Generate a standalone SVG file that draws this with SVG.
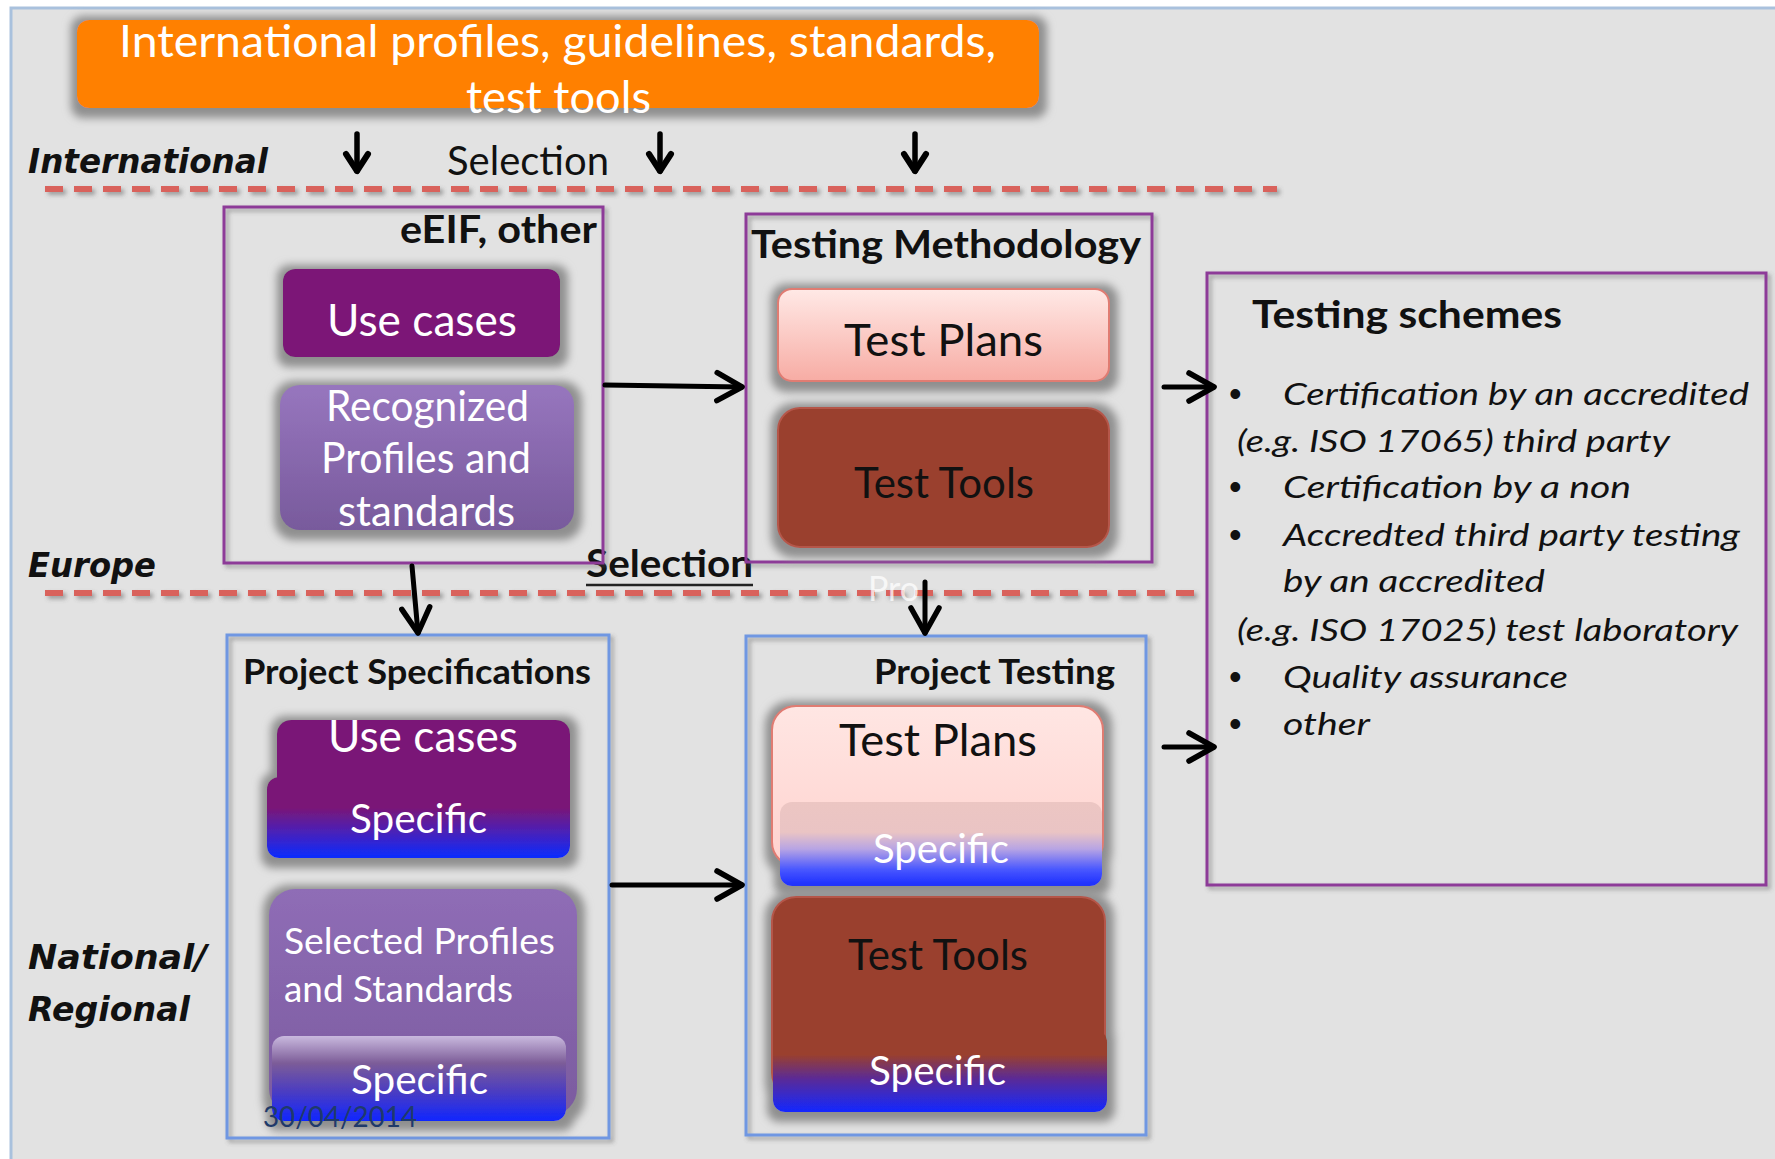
<svg xmlns="http://www.w3.org/2000/svg" width="1775" height="1159" viewBox="0 0 1775 1159">
<style>
  .reg { font-family: Lato, "Open Sans", "Liberation Sans", sans-serif; }
  .bold { font-family: Lato, "Open Sans", "Liberation Sans", sans-serif; font-weight: 700; }
  .ital { font-family: Lato, "Open Sans", "Liberation Sans", sans-serif; font-style: italic; }
  .level { font-family: "DejaVu Sans", Verdana, sans-serif; font-weight: 700; font-style: oblique; font-size: 33px; fill: #111; }
  .white { fill: #ffffff; }
  .black { fill: #111111; }
  .zone-purple { fill: none; stroke: #8d3b98; stroke-width: 3; }
  .zone-blue { fill: none; stroke: #6f97e2; stroke-width: 3; }
  .divider { fill: none; stroke: #d9625c; stroke-width: 6; stroke-dasharray: 18 11; }
  .conn { fill: none; stroke: #000; stroke-width: 5; }
  .conn-s { fill: none; stroke: #000; stroke-width: 5.5; }
</style>
<defs>
  <filter id="glow" filterUnits="userSpaceOnUse" x="0" y="0" width="1775" height="1159">
    <feMorphology in="SourceAlpha" operator="dilate" radius="7" result="d"/>
    <feGaussianBlur in="d" stdDeviation="4"/>
    <feOffset dx="1" dy="3" result="b"/>
    <feFlood flood-color="#8f8f8f" flood-opacity="1"/>
    <feComposite in2="b" operator="in"/>
    <feMerge><feMergeNode/><feMergeNode in="SourceGraphic"/></feMerge>
  </filter>
  <filter id="soft" filterUnits="userSpaceOnUse" x="0" y="0" width="1775" height="1159">
    <feGaussianBlur in="SourceAlpha" stdDeviation="2"/>
    <feOffset dx="3" dy="3" result="b"/>
    <feFlood flood-color="#555" flood-opacity="0.5"/>
    <feComposite in2="b" operator="in"/>
    <feMerge><feMergeNode/><feMergeNode in="SourceGraphic"/></feMerge>
  </filter>
  <linearGradient id="gRecog" x1="0" y1="0" x2="0" y2="1">
    <stop offset="0" stop-color="#9776be"/>
    <stop offset="1" stop-color="#785a9c"/>
  </linearGradient>
  <linearGradient id="gPlans" x1="0" y1="0" x2="0" y2="1">
    <stop offset="0" stop-color="#ffe9e6"/>
    <stop offset="1" stop-color="#f7aca4"/>
  </linearGradient>
  <linearGradient id="gPlansB" x1="0" y1="0" x2="0" y2="1">
    <stop offset="0" stop-color="#ffe6e3"/>
    <stop offset="1" stop-color="#ffd2ce"/>
  </linearGradient>
  <linearGradient id="gUcSpec" x1="0" y1="0" x2="0" y2="1">
    <stop offset="0" stop-color="#7a1777"/>
    <stop offset="0.38" stop-color="#7a1777"/>
    <stop offset="0.66" stop-color="#4d20b4"/>
    <stop offset="1" stop-color="#0a2cff"/>
  </linearGradient>
  <linearGradient id="gSelBody" x1="0" y1="0" x2="0" y2="1">
    <stop offset="0" stop-color="#8f6db6"/>
    <stop offset="1" stop-color="#7b5b9f"/>
  </linearGradient>
  <linearGradient id="gSelSpec" x1="0" y1="0" x2="0" y2="1">
    <stop offset="0" stop-color="#c9b9de"/>
    <stop offset="0.32" stop-color="#7c5c98"/>
    <stop offset="0.66" stop-color="#4a3cc2"/>
    <stop offset="1" stop-color="#1026ff"/>
  </linearGradient>
  <linearGradient id="gPlanSpec" x1="0" y1="0" x2="0" y2="1">
    <stop offset="0" stop-color="#ecc6c3"/>
    <stop offset="0.36" stop-color="#eac4c4"/>
    <stop offset="0.56" stop-color="#b7a4e4"/>
    <stop offset="0.8" stop-color="#4a58ff"/>
    <stop offset="1" stop-color="#1a2cff"/>
  </linearGradient>
  <linearGradient id="gToolSpec" x1="0" y1="0" x2="0" y2="1">
    <stop offset="0" stop-color="#9a402d"/>
    <stop offset="0.3" stop-color="#9a402d"/>
    <stop offset="0.6" stop-color="#5a2a98"/>
    <stop offset="1" stop-color="#1228ff"/>
  </linearGradient>
  <marker id="head" markerUnits="userSpaceOnUse" viewBox="-32 -20 38 40" refX="0" refY="0" markerWidth="38" markerHeight="40" orient="auto" overflow="visible">
    <path d="M-25,-14 L0,0 L-25,14" fill="none" stroke="#000" stroke-width="5.5" stroke-linecap="round" stroke-linejoin="round"/>
  </marker>
  <marker id="headS" markerUnits="userSpaceOnUse" viewBox="-24 -16 28 32" refX="0" refY="0" markerWidth="28" markerHeight="32" orient="auto" overflow="visible">
    <path d="M-17,-11 L0,0 L-17,11" fill="none" stroke="#000" stroke-width="6" stroke-linecap="round" stroke-linejoin="round"/>
  </marker>
</defs>

<!-- page and slide frame -->
<rect x="0" y="0" width="1775" height="1159" fill="#ffffff"/>
<rect x="11" y="8" width="1790" height="1180" fill="#e2e2e2" stroke="#a9c1dd" stroke-width="3"/>

<!-- level dividers -->
<g id="dividers" filter="url(#soft)">
  <line class="divider" x1="45" y1="189" x2="1277" y2="189"/>
  <line class="divider" x1="45" y1="593" x2="1200" y2="593"/>
</g>

<!-- level labels -->
<g id="levels">
  <text class="level" x="28" y="173" textLength="240" lengthAdjust="spacingAndGlyphs">International</text>
  <text class="level" x="28" y="577" textLength="128" lengthAdjust="spacingAndGlyphs">Europe</text>
  <text class="level" x="28" y="969" textLength="179" lengthAdjust="spacingAndGlyphs">National/</text>
  <text class="level" x="28" y="1021" textLength="162" lengthAdjust="spacingAndGlyphs">Regional</text>
</g>

<!-- international sources -->
<g id="intl-sources">
  <rect x="77" y="20" width="962" height="88" rx="12" fill="#ff8003" filter="url(#glow)"/>
  <text class="reg white" x="119" y="57" font-size="45" textLength="877" lengthAdjust="spacingAndGlyphs">International profiles, guidelines, standards,</text>
  <text class="reg white" x="466" y="113" font-size="45" textLength="185" lengthAdjust="spacingAndGlyphs">test tools</text>
</g>

<g id="selection-labels">
  <text class="reg black" x="447" y="175" font-size="41" textLength="162" lengthAdjust="spacingAndGlyphs">Selection</text>
  <text class="bold black" x="586" y="577" font-size="38" textLength="167" lengthAdjust="spacingAndGlyphs">Selection</text>
  <line x1="586" y1="585" x2="753" y2="585" stroke="#222" stroke-width="2.5"/>
  <text class="reg" x="868" y="601" font-size="34" fill="#ffffff" fill-opacity="0.75">Pro</text>
</g>

<!-- Europe: eEIF and others -->
<g id="eeif">
  <rect class="zone-purple" x="224" y="207" width="379" height="356" filter="url(#soft)"/>
  <text class="bold black" x="400" y="243" font-size="39" textLength="197" lengthAdjust="spacingAndGlyphs">eEIF, other</text>
  <g id="eeif-usecases">
    <rect x="283" y="269" width="277" height="88" rx="12" fill="#7b1677" filter="url(#glow)"/>
    <text class="reg white" x="327" y="336" font-size="44" textLength="190" lengthAdjust="spacingAndGlyphs">Use cases</text>
  </g>
  <g id="eeif-profiles">
    <rect x="280" y="385" width="294" height="145" rx="20" fill="url(#gRecog)" filter="url(#glow)"/>
    <text class="reg white" x="326" y="421" font-size="42" textLength="203" lengthAdjust="spacingAndGlyphs">Recognized</text>
    <text class="reg white" x="321" y="473" font-size="42" textLength="210" lengthAdjust="spacingAndGlyphs">Profiles and</text>
    <text class="reg white" x="338" y="526" font-size="42" textLength="177" lengthAdjust="spacingAndGlyphs">standards</text>
  </g>
</g>

<!-- Europe: testing methodology -->
<g id="methodology">
  <rect class="zone-purple" x="746" y="214" width="406" height="348" filter="url(#soft)"/>
  <text class="bold black" x="751" y="258" font-size="39" textLength="390" lengthAdjust="spacingAndGlyphs">Testing Methodology</text>
  <g id="method-plans">
    <rect x="778" y="289" width="331" height="92" rx="14" fill="url(#gPlans)" stroke="#e07b72" stroke-width="2" filter="url(#glow)"/>
    <text class="reg black" x="844" y="356" font-size="45" textLength="199" lengthAdjust="spacingAndGlyphs">Test Plans</text>
  </g>
  <g id="method-tools">
    <rect x="778" y="408" width="331" height="139" rx="22" fill="#9a402d" stroke="#b5574a" stroke-width="2" filter="url(#glow)"/>
    <text class="reg black" x="854" y="498" font-size="42" textLength="180" lengthAdjust="spacingAndGlyphs">Test Tools</text>
  </g>
</g>

<!-- testing schemes -->
<g id="schemes">
  <rect class="zone-purple" x="1207" y="273" width="559" height="612" filter="url(#soft)"/>
  <text class="bold black" x="1252" y="328" font-size="38" textLength="310" lengthAdjust="spacingAndGlyphs">Testing  schemes</text>
  <g font-family="'Liberation Sans', Arial, sans-serif" font-size="36" fill="#111">
    <text x="1229" y="406">•</text>
    <text x="1229" y="499">•</text>
    <text x="1229" y="547">•</text>
    <text x="1229" y="689">•</text>
    <text x="1229" y="736">•</text>
  </g>
  <g class="ital" font-size="31" fill="#111">
    <text x="1283" y="405" textLength="466" lengthAdjust="spacingAndGlyphs">Certification by an accredited</text>
    <text x="1237" y="452" textLength="433" lengthAdjust="spacingAndGlyphs">(e.g. ISO 17065) third party</text>
    <text x="1283" y="498" textLength="348" lengthAdjust="spacingAndGlyphs">Certification by  a non</text>
    <text x="1283" y="546" textLength="457" lengthAdjust="spacingAndGlyphs">Accredted third party testing</text>
    <text x="1283" y="592" textLength="262" lengthAdjust="spacingAndGlyphs">by an accredited</text>
    <text x="1237" y="641" textLength="501" lengthAdjust="spacingAndGlyphs">(e.g. ISO 17025) test laboratory</text>
    <text x="1283" y="688" textLength="285" lengthAdjust="spacingAndGlyphs">Quality assurance</text>
    <text x="1283" y="735" textLength="87" lengthAdjust="spacingAndGlyphs">other</text>
  </g>
</g>

<!-- national / regional: project specifications -->
<g id="project-specs">
  <rect class="zone-blue" x="227" y="635" width="382" height="503" filter="url(#soft)"/>
  <text class="bold black" x="243" y="684" font-size="34" textLength="348" lengthAdjust="spacingAndGlyphs">Project Specifications</text>
  <g id="spec-usecases" filter="url(#glow)">
    <rect x="277" y="720" width="293" height="90" rx="14" fill="#7a1777"/>
    <rect x="267" y="777" width="303" height="81" rx="12" fill="url(#gUcSpec)"/>
  </g>
  <text class="reg white" x="328" y="752" font-size="44" textLength="190" lengthAdjust="spacingAndGlyphs">Use cases</text>
  <text class="reg white" x="350" y="833" font-size="41" textLength="137" lengthAdjust="spacingAndGlyphs">Specific</text>
  <g id="spec-profiles" filter="url(#glow)">
    <rect x="269" y="889" width="308" height="226" rx="26" fill="url(#gSelBody)"/>
    <rect x="272" y="1036" width="294" height="85" rx="12" fill="url(#gSelSpec)"/>
  </g>
  <text class="reg white" x="284" y="954" font-size="37" textLength="271" lengthAdjust="spacingAndGlyphs">Selected Profiles</text>
  <text class="reg white" x="284" y="1002" font-size="37" textLength="229" lengthAdjust="spacingAndGlyphs">and Standards</text>
  <text class="reg white" x="351" y="1094" font-size="41" textLength="137" lengthAdjust="spacingAndGlyphs">Specific</text>
</g>

<!-- national / regional: project testing -->
<g id="project-testing">
  <rect class="zone-blue" x="746" y="636" width="400" height="499" filter="url(#soft)"/>
  <text class="bold black" x="874" y="684" font-size="34" textLength="241" lengthAdjust="spacingAndGlyphs">Project Testing</text>
  <g id="ptest-plans" filter="url(#glow)">
    <rect x="772" y="706" width="331" height="160" rx="24" fill="url(#gPlansB)" stroke="#e07b72" stroke-width="2"/>
    <rect x="780" y="802" width="322" height="84" rx="12" fill="url(#gPlanSpec)"/>
  </g>
  <text class="reg black" x="839" y="756" font-size="45" textLength="198" lengthAdjust="spacingAndGlyphs">Test Plans</text>
  <text class="reg white" x="873" y="863" font-size="41" textLength="136" lengthAdjust="spacingAndGlyphs">Specific</text>
  <g id="ptest-tools" filter="url(#glow)">
    <rect x="772" y="897" width="333" height="200" rx="24" fill="#9a402d" stroke="#b5574a" stroke-width="2"/>
    <rect x="773" y="1030" width="334" height="82" rx="12" fill="url(#gToolSpec)"/>
  </g>
  <text class="reg black" x="848" y="970" font-size="42" textLength="180" lengthAdjust="spacingAndGlyphs">Test Tools</text>
  <text class="reg white" x="869" y="1085" font-size="41" textLength="137" lengthAdjust="spacingAndGlyphs">Specific</text>
</g>

<!-- slide date -->
<text class="reg" x="263" y="1127" font-size="29" fill="#1f3a6a" textLength="154" lengthAdjust="spacingAndGlyphs">30/04/2014</text>

<!-- connectors -->
<g id="connectors" stroke-linecap="round">
  <line class="conn-s" x1="357" y1="134" x2="357" y2="171" marker-end="url(#headS)"/>
  <line class="conn-s" x1="660" y1="134" x2="660" y2="171" marker-end="url(#headS)"/>
  <line class="conn-s" x1="915" y1="134" x2="915" y2="171" marker-end="url(#headS)"/>
  <line class="conn" x1="605" y1="385" x2="742" y2="387" marker-end="url(#head)"/>
  <line class="conn" x1="1164" y1="387" x2="1214" y2="387" marker-end="url(#head)"/>
  <line class="conn" x1="412" y1="566" x2="418" y2="633" marker-end="url(#head)"/>
  <line class="conn" x1="925" y1="582" x2="925" y2="633" marker-end="url(#head)"/>
  <line class="conn" x1="612" y1="885" x2="742" y2="885" marker-end="url(#head)"/>
  <line class="conn" x1="1164" y1="747" x2="1214" y2="747" marker-end="url(#head)"/>
</g>
</svg>
